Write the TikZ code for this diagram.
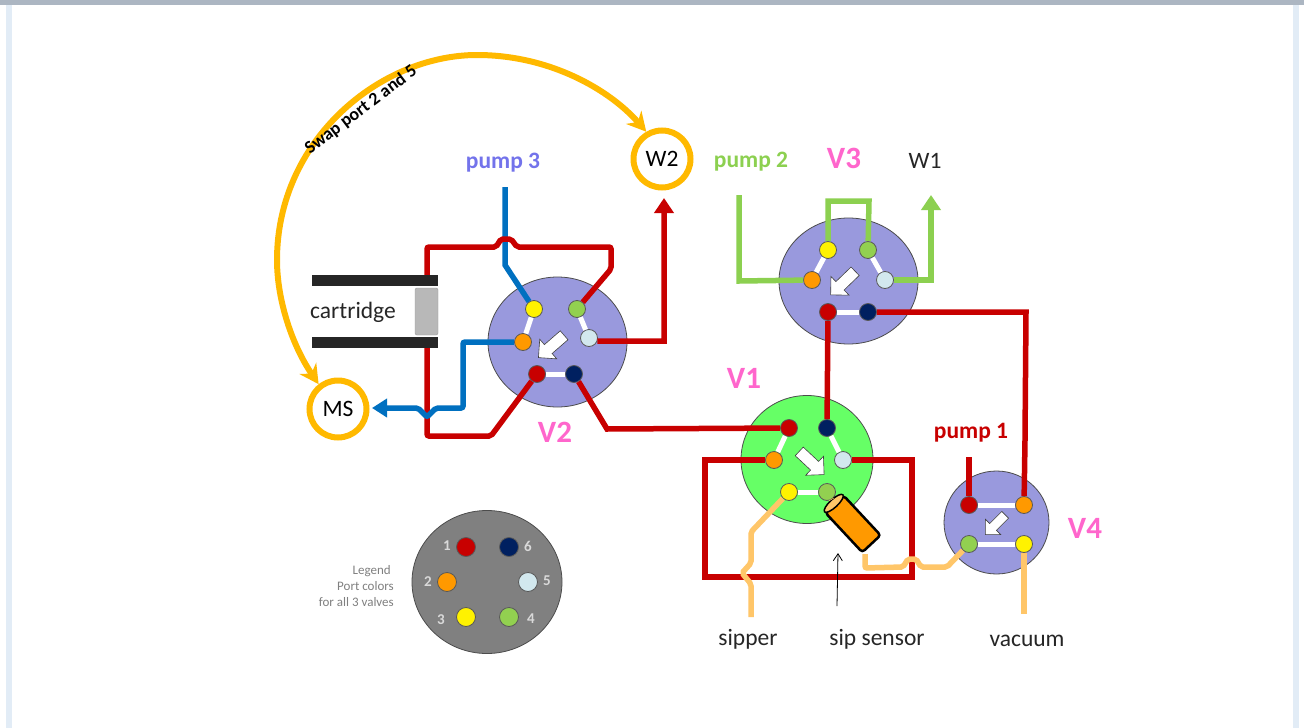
\documentclass[tikz,border=0pt]{standalone}
\usepackage{xcolor}
\usepackage{fontspec}
\setmainfont{Carlito}
\usetikzlibrary{shapes,arrows.meta}
\definecolor{wirered}{RGB}{200,0,0}
\definecolor{wireblue}{RGB}{0,112,192}
\definecolor{wiregreen}{RGB}{140,208,80}
\definecolor{wiretan}{RGB}{255,198,105}
\definecolor{swapgold}{RGB}{255,185,0}
\definecolor{valvelilac}{RGB}{153,153,221}
\definecolor{valvegreen}{RGB}{102,255,102}
\definecolor{labelpink}{RGB}{255,102,204}
\definecolor{labelviolet}{RGB}{115,115,235}
\definecolor{portnavy}{RGB}{0,32,96}
\definecolor{portorange}{RGB}{255,153,0}
\definecolor{portpale}{RGB}{210,232,238}
\definecolor{portgreen}{RGB}{146,208,80}
\definecolor{pagebar}{RGB}{172,182,194}
\definecolor{pageedge}{RGB}{226,236,246}
\tikzset{
    valve/.style={draw=black!70,line width=0.8pt,ellipse,inner sep=0pt},
    port/.style={draw=black!65,line width=0.8pt,circle,inner sep=0pt,minimum size=17pt},
    keyport/.style={port,minimum size=19pt},
    link/.style={white,line width=5pt},
    redwire/.style={wirered,line width=5.5pt},
    bluewire/.style={wireblue,line width=5.5pt},
    greenwire/.style={wiregreen,line width=5.5pt},
    tanwire/.style={wiretan,line width=5.5pt,rounded corners=2pt},
    flowarrow/.style={single arrow,draw=black!75,fill=white,line width=0.6pt,inner sep=0pt,text height=6pt,text depth=5pt,minimum height=34pt,minimum width=26pt,single arrow head extend=7pt,single arrow head indent=0pt},
    target/.style={draw=swapgold,line width=6pt,circle,inner sep=0pt,minimum size=57pt,font=\fontsize{23.5}{26}\selectfont},
    vlabel/.style={labelpink,font=\fontsize{31}{34}\selectfont\bfseries},
    pumplabel/.style={font=\fontsize{23.5}{26}\selectfont\bfseries},
    plainlabel/.style={black!85,font=\fontsize{23.5}{26}\selectfont},
    legendnum/.style={black!15,font=\fontsize{15}{17}\selectfont\bfseries}
}
\begin{document}
\begin{tikzpicture}[x=1pt,y=-1pt]
    \useasboundingbox (0,0) rectangle (1304,728);
    \fill[white] (0,0) rectangle (1304,728);
    \fill[pageedge] (6,0) rectangle (12,728);
    \fill[pageedge] (1293,0) rectangle (1299,728);
    \fill[pagebar] (0,0) rectangle (1304,5);

    \node[valve,fill=valvelilac,minimum width=139pt,minimum height=130pt] (v2) at (557.5,342) {};
    \node[valve,fill=valvelilac,minimum width=139pt,minimum height=126pt] (v3) at (848.5,281) {};
    \node[valve,fill=valvegreen,minimum width=132pt,minimum height=128pt] (v1) at (807,459.5) {};
    \node[valve,fill=valvelilac,minimum width=105pt,minimum height=103pt] (v4) at (996.5,522.5) {};
    \node[valve,fill=black!50,minimum width=150pt,minimum height=143pt] (legend) at (487,582) {};

    \node[port,fill=wirered] (v2red) at (537,374) {};
    \node[port,fill=portnavy] (v2navy) at (574,374) {};
    \node[port,fill=portorange] (v2orange) at (523,342) {};
    \node[port,fill=portpale] (v2pale) at (589,338) {};
    \node[port,fill=yellow] (v2yellow) at (534,309) {};
    \node[port,fill=portgreen] (v2green) at (577,309) {};

    \node[port,fill=wirered] (v3red) at (828,312) {};
    \node[port,fill=portnavy] (v3navy) at (868,312) {};
    \node[port,fill=portorange] (v3orange) at (812,280) {};
    \node[port,fill=portpale] (v3pale) at (885,280) {};
    \node[port,fill=yellow] (v3yellow) at (828,250) {};
    \node[port,fill=portgreen] (v3green) at (868,250) {};

    \node[port,fill=wirered] (v1red) at (789,428) {};
    \node[port,fill=portnavy] (v1navy) at (827,428) {};
    \node[port,fill=portorange] (v1orange) at (774,460) {};
    \node[port,fill=portpale] (v1pale) at (843,460) {};
    \node[port,fill=yellow] (v1yellow) at (789,492) {};
    \node[port,fill=portgreen] (v1green) at (827,492) {};

    \node[port,fill=wirered] (v4red) at (969,505) {};
    \node[port,fill=portorange] (v4orange) at (1024,505) {};
    \node[port,fill=portgreen] (v4green) at (969,544) {};
    \node[port,fill=yellow] (v4yellow) at (1024,544) {};

    \node[keyport,fill=wirered] (keyred) at (466,547) {};
    \node[keyport,fill=portnavy] (keynavy) at (509,547) {};
    \node[keyport,fill=portorange] (keyorange) at (447,582) {};
    \node[keyport,fill=portpale] (keypale) at (528,582) {};
    \node[keyport,fill=yellow] (keyyellow) at (466,617) {};
    \node[keyport,fill=portgreen] (keygreen) at (509,617) {};

    \draw[link] (v2yellow) -- (v2orange);
    \draw[link] (v2green) -- (v2pale);
    \draw[link] (v2red) -- (v2navy);
    \draw[link] (v3yellow) -- (v3orange);
    \draw[link] (v3green) -- (v3pale);
    \draw[link] (v3red) -- (v3navy);
    \draw[link] (v1red) -- (v1orange);
    \draw[link] (v1navy) -- (v1pale);
    \draw[link] (v1yellow) -- (v1green);
    \draw[link] (v4red) -- (v4orange);
    \draw[link] (v4green) -- (v4yellow);

    \node[flowarrow,rotate=221] (v2flow) at (553.5,344.5) {};
    \node[flowarrow,rotate=224] (v3flow) at (845,281) {};
    \node[flowarrow,rotate=-43] (v1flow) at (809.5,461) {};
    \node[flowarrow,rotate=225,text height=4.5pt,text depth=4.5pt,minimum height=28pt,minimum width=21pt,single arrow head extend=6pt] (v4flow) at (997,523) {};

    \node[target] (w2) at (662,159) {W2};
    \node[target] (ms) at (338,409) {MS};

    \coordinate (pump3end) at (505,187);
    \coordinate (pump2end) at (739,195);
    \coordinate (w1end) at (931,195);
    \coordinate (w2end) at (664,198);
    \coordinate (msend) at (372,408);
    \coordinate (pump1end) at (969,457);
    \coordinate (sipperend) at (751,617);
    \coordinate (vacuumend) at (1024,614);

    \draw[bluewire] (pump3end) -- (505,265) -- (v2yellow);
    \draw[redwire,rounded corners=2pt] (v2green) -- (611,269) -- (611,247) -- (517,247) -- (511,239) -- (501,239) -- (496,247) -- (427,247) -- (427,436) -- (491,436) -- (v2red);
    \draw[redwire,-{Triangle[length=15pt,width=19pt]}] (v2pale.-20) -- (664,341) -- (w2end);
    \draw[redwire] (v2navy) -- (607,429) -- (v1red);
    \draw[bluewire,rounded corners=2pt,-{Triangle[length=15pt,width=18pt]}] (v2orange) -- (463,342) -- (463,408) -- (436,408) -- (427,417) -- (418,408) -- (msend);

    \fill[white] (312,285) rectangle (438,337);
    \fill[black!85] (312,275) rectangle (438,286);
    \fill[black!85] (312,337) rectangle (438,348);
    \draw[black!40,fill=black!28,rounded corners=2pt] (415,288) rectangle (438,335);
    \node[plainlabel] (cartridgelabel) at (353,312) {cartridge};

    \draw[greenwire] (pump2end) -- (739,281) -- (v3orange);
    \draw[greenwire] (v3yellow) -- (828,201) -- (869,201) -- (v3green);
    \draw[greenwire,-{Triangle[length=15pt,width=19pt]}] (v3pale) -- (931,280) -- (w1end);
    \draw[redwire] (v3navy) -- (1026,312) -- (1025,440) -- (v4orange);
    \draw[redwire] (v3red) -- (v1navy);

    \draw[redwire] (v1orange) -- (705,460) -- (705,577) -- (912,577) -- (912,460) -- (v1pale);
    \draw[redwire] (pump1end) -- (v4red);

    \node[draw=black,line width=2.5pt,fill=portorange,rounded corners=3pt,minimum width=54pt,minimum height=25pt,inner sep=0pt,rotate=-47] (sensor) at (853,524) {};
    \node[draw=black,line width=1.5pt,fill=wiretan,ellipse,minimum width=8pt,minimum height=25pt,inner sep=0pt,rotate=-47] (sensorcap) at (sensor.west) {};
    \draw[tanwire] (v1green) -- (sensorcap);
    \draw[tanwire] ([xshift=3pt]sensor.south east) -- (865,568) -- (903,567) -- (908,559) -- (916,559) -- (921,567) -- (947,567) -- (v4green);
    \draw[tanwire] (v1yellow) -- (751,532) -- (751,563) -- (742,573) -- (751,584) -- (sipperend);
    \draw[tanwire] (v4yellow) -- (vacuumend);

    \coordinate (sensortip) at (838,553);
    \coordinate (sensortail) at (837,606);
    \draw[black,line width=0.8pt,-{Straight Barb[length=7pt,width=9pt]}] (sensortail) -- (sensortip);

    \draw[swapgold,line width=6pt,{Stealth[length=19pt,width=20pt]}-{Stealth[length=19pt,width=20pt]}] (ms.128) .. controls (292,345) and (277,300) .. (277,260) .. controls (277,140) and (380,55) .. (477,55) .. controls (550,55) and (610,90) .. (w2.120);
    \node[rotate=37,font=\fontsize{18}{20}\selectfont\bfseries] (swaplabel) at (361,110) {Swap port 2 and 5};

    \node[pumplabel,text=labelviolet] (pump3) at (503,163) {pump 3};
    \node[pumplabel,text=wiregreen] (pump2) at (751,162) {pump 2};
    \node[pumplabel,text=wirered] (pump1) at (971,433) {pump 1};
    \node[vlabel] (v3name) at (844,158) {V3};
    \node[vlabel] (v2name) at (555,432) {V2};
    \node[vlabel] (v1name) at (744,378) {V1};
    \node[vlabel] (v4name) at (1085,528) {V4};
    \node[plainlabel] (w1) at (925,161) {W1};
    \node[plainlabel] (sipper) at (748,639) {sipper};
    \node[plainlabel] (sipsensor) at (877,639) {sip sensor};
    \node[plainlabel] (vacuum) at (1027,641) {vacuum};

    \node[legendnum] (key1) at (447,546) {1};
    \node[legendnum] (key6) at (528,546) {6};
    \node[legendnum] (key2) at (428,582) {2};
    \node[legendnum] (key5) at (547,581) {5};
    \node[legendnum] (key3) at (441,620) {3};
    \node[legendnum] (key4) at (531,619) {4};
    \node[black!50,align=right,anchor=east,inner sep=0pt,font=\fontsize{13}{16}\selectfont] (legendtext) at (394,586) {Legend\hspace*{3pt}\\Port colors\hspace*{3pt}\\for all 3 valves};
\end{tikzpicture}
\end{document}
